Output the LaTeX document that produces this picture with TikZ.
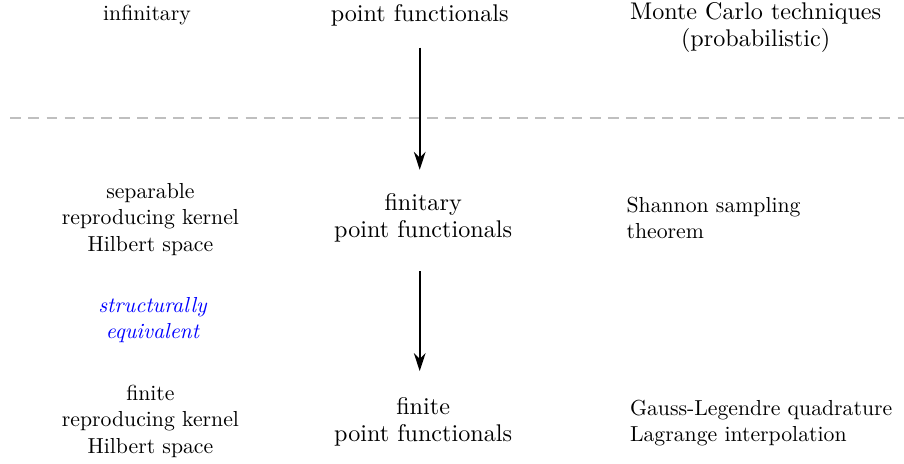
\documentclass[tikz,border=0pt]{standalone}
\usepackage{xcolor}
\usepackage{tikz}
\usetikzlibrary{arrows.meta,positioning}

\begin{document}
\begin{tikzpicture}[font=\fontsize{10}{11.2}\selectfont,
   lbl/.style={align=center},
   sm/.style={align=center,font=\fontsize{10}{12.2}\selectfont,scale=0.9,transform shape},
   ex/.style={sm,align=left,anchor=west},
   down/.style={-{Stealth[length=2.6mm,width=1.7mm]},thick}]
  \useasboundingbox (0,0) rectangle (13.16,-6.74);
  % top row
  \node[sm] (inf) at (2.14,-0.22) {infinitary};
  \node[lbl] (pf) at (6.11,-0.22) {point functionals};
  \node[lbl] (mc) at (11.0,-0.4) {Monte Carlo techniques\\(probabilistic)};
  \draw[gray!50,line width=0.8pt,dash pattern=on 4.5pt off 3pt] (0.15,-1.72) -- (13.16,-1.72);
  % middle row
  \node[sm] (sep) at (2.19,-3.19) {separable\\reproducing kernel\\Hilbert space};
  \node[lbl] (fin) at (6.16,-3.17) {finitary\\point functionals};
  \node[ex] (sh) at (9.01,-3.17) {Shannon sampling\\theorem};
  \node[sm,text=blue,font=\fontsize{10}{12.2}\selectfont\itshape] (eq) at (2.22,-4.66) {structurally\\equivalent};
  % bottom row
  \node[sm] (fsp) at (2.19,-6.13) {finite\\reproducing kernel\\Hilbert space};
  \node[lbl] (fpf) at (6.16,-6.14) {finite\\point functionals};
  \node[ex] (gl) at (9.06,-6.16) {Gauss-Legendre quadrature\\Lagrange interpolation};
  \draw[down,shorten <=0.19cm,shorten >=0.22cm] (pf.south) -- (pf.south |- fin.north);
  \draw[down,shorten <=0.3cm,shorten >=0.26cm] (pf.south |- fin.south) -- (pf.south |- fpf.north);
\end{tikzpicture}
\end{document}
